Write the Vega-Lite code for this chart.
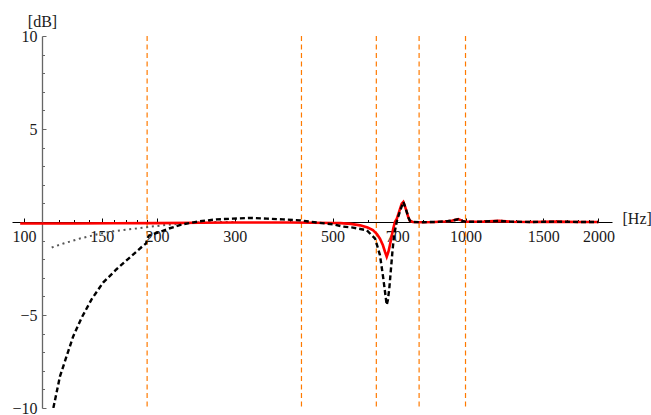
{
  "$schema": "https://vega.github.io/schema/vega-lite/v6.json",
  "width": 600,
  "height": 372,
  "autosize": "none",
  "padding": {"left": 12, "top": 36, "right": 39, "bottom": 7},
  "background": "white",
  "config": {
    "view": {"stroke": null},
    "axis": {
      "grid": false,
      "labelFont": "Liberation Serif",
      "labelFontSize": 16,
      "labelColor": "#1a1a1a",
      "titleFont": "Liberation Serif",
      "titleFontSize": 16,
      "titleFontWeight": "normal",
      "titleColor": "#1a1a1a"
    }
  },
  "datasets": {
    "red": [
      {"f": 98, "db": -0.08}, {"f": 130, "db": -0.08}, {"f": 160, "db": -0.07}, {"f": 200, "db": -0.06},
      {"f": 250, "db": -0.04}, {"f": 300, "db": -0.03}, {"f": 400, "db": -0.03}, {"f": 450, "db": -0.04},
      {"f": 500, "db": -0.05}, {"f": 520, "db": -0.06}, {"f": 550, "db": -0.1}, {"f": 577, "db": -0.18},
      {"f": 600, "db": -0.3}, {"f": 617, "db": -0.44}, {"f": 630, "db": -0.65}, {"f": 640, "db": -0.9},
      {"f": 650, "db": -1.25}, {"f": 657, "db": -1.6}, {"f": 663, "db": -1.87}, {"f": 669, "db": -1.6},
      {"f": 674, "db": -1.25}, {"f": 680, "db": -0.8}, {"f": 686, "db": -0.35}, {"f": 692, "db": 0.0},
      {"f": 699, "db": 0.18}, {"f": 705, "db": 0.45}, {"f": 711, "db": 0.72}, {"f": 717, "db": 0.98},
      {"f": 723, "db": 1.08}, {"f": 729, "db": 0.85}, {"f": 736, "db": 0.54}, {"f": 742, "db": 0.25},
      {"f": 748, "db": 0.07}, {"f": 760, "db": 0.0}, {"f": 800, "db": -0.01}, {"f": 850, "db": 0.0},
      {"f": 900, "db": 0.03}, {"f": 930, "db": 0.07}, {"f": 963, "db": 0.15}, {"f": 985, "db": 0.06},
      {"f": 1000, "db": 0.01}, {"f": 1100, "db": 0.02}, {"f": 1190, "db": 0.06}, {"f": 1260, "db": 0.02},
      {"f": 1400, "db": 0.0}, {"f": 1600, "db": 0.02}, {"f": 1800, "db": 0.0}, {"f": 2000, "db": 0.0}
    ],
    "dashed": [
      {"f": 116.5, "db": -10}, {"f": 117.1, "db": -9.75}, {"f": 120.6, "db": -8.3}, {"f": 124.9, "db": -7.2},
      {"f": 129.2, "db": -6.15}, {"f": 135, "db": -5.15}, {"f": 142.2, "db": -4.16}, {"f": 151, "db": -3.26},
      {"f": 162, "db": -2.54}, {"f": 173.5, "db": -1.91}, {"f": 186, "db": -1.28}, {"f": 189, "db": -1.15},
      {"f": 190, "db": -0.9}, {"f": 192, "db": -0.72}, {"f": 203, "db": -0.53}, {"f": 213, "db": -0.35},
      {"f": 229, "db": -0.12}, {"f": 250, "db": 0.04}, {"f": 273, "db": 0.14}, {"f": 297, "db": 0.18},
      {"f": 325, "db": 0.22}, {"f": 355, "db": 0.18}, {"f": 386, "db": 0.14}, {"f": 422, "db": 0.09},
      {"f": 460, "db": -0.03}, {"f": 501, "db": -0.12}, {"f": 528, "db": -0.25}, {"f": 556, "db": -0.3},
      {"f": 597, "db": -0.44}, {"f": 624, "db": -0.89}, {"f": 640, "db": -1.78}, {"f": 651, "db": -3.0},
      {"f": 660, "db": -4.1}, {"f": 663, "db": -4.46}, {"f": 667, "db": -4.2}, {"f": 672, "db": -3.57},
      {"f": 677, "db": -2.67}, {"f": 683, "db": -1.6}, {"f": 689, "db": -0.71}, {"f": 699, "db": 0.05},
      {"f": 711, "db": 0.6}, {"f": 723, "db": 1.08}, {"f": 729, "db": 0.85}, {"f": 736, "db": 0.54},
      {"f": 742, "db": 0.25}, {"f": 748, "db": 0.07}, {"f": 760, "db": 0.0}, {"f": 800, "db": -0.01},
      {"f": 850, "db": 0.0}, {"f": 900, "db": 0.03}, {"f": 930, "db": 0.07}, {"f": 963, "db": 0.15},
      {"f": 985, "db": 0.06}, {"f": 1000, "db": 0.01}, {"f": 1100, "db": 0.02}, {"f": 1190, "db": 0.06},
      {"f": 1260, "db": 0.02}, {"f": 1400, "db": 0.0}, {"f": 1600, "db": 0.02}, {"f": 1800, "db": 0.0},
      {"f": 2000, "db": 0.0}
    ],
    "dotted": [
      {"f": 115.5, "db": -1.37}, {"f": 122.7, "db": -1.16}, {"f": 133.8, "db": -0.89}, {"f": 146, "db": -0.67},
      {"f": 159, "db": -0.5}, {"f": 173.5, "db": -0.39}, {"f": 189.4, "db": -0.28}, {"f": 199, "db": -0.22},
      {"f": 215, "db": -0.13}, {"f": 235, "db": -0.06}, {"f": 260, "db": 0.0}, {"f": 300, "db": 0.0}
    ],
    "vlines": [
      {"f": 190}, {"f": 425}, {"f": 628}, {"f": 785}, {"f": 1000}
    ]
  },
  "resolve": {"axis": {"x": "independent", "y": "independent"}},
  "layer": [
    {
      "data": {"name": "vlines"},
      "mark": {"type": "rule", "color": "#FF7A00", "strokeWidth": 1.2, "strokeDash": [5, 3.5]},
      "encoding": {
        "x": {"field": "f", "type": "quantitative", "scale": {"type": "log", "domain": [93.9, 2147], "nice": false}, "axis": null}
      }
    },
    {
      "data": {"name": "dotted"},
      "mark": {"type": "line", "color": "#555555", "strokeWidth": 2, "strokeDash": [2, 3.7], "clip": true},
      "encoding": {
        "x": {"field": "f", "type": "quantitative", "scale": {"type": "log", "domain": [93.9, 2147], "nice": false}, "axis": null},
        "y": {"field": "db", "type": "quantitative", "scale": {"domain": [-10, 10], "nice": false, "zero": false}, "axis": null}
      }
    },
    {
      "data": {"name": "red"},
      "mark": {"type": "line", "color": "#FF0000", "strokeWidth": 2.6, "clip": true},
      "encoding": {
        "x": {"field": "f", "type": "quantitative", "scale": {"type": "log", "domain": [93.9, 2147], "nice": false},
          "axis": {"orient": "bottom", "offset": -186, "values": [100, 150, 200, 300, 500, 700, 1000, 1500, 2000], "format": "d",
            "tickSize": -4, "tickColor": "#000000", "domainColor": "#000000", "domainWidth": 1, "labelPadding": 10,
            "labelFlush": false, "labelOverlap": false,
            "title": "[Hz]", "titleX": 610, "titleY": -4, "titleAlign": "left", "titleBaseline": "middle", "titleAnchor": null}},
        "y": {"field": "db", "type": "quantitative", "scale": {"domain": [-10, 10], "nice": false, "zero": false},
          "axis": {"orient": "left", "offset": -30, "values": [-10, -5, 5, 10], "tickSize": -4, "tickColor": "#666666",
            "domainColor": "#666666", "domainWidth": 1.3, "labelPadding": 9, "labelFlush": false, "labelOverlap": false,
            "title": "[dB]", "titleAngle": 0, "titleX": 0, "titleY": -15, "titleAlign": "center", "titleBaseline": "middle", "titleAnchor": null}}
      }
    },
    {
      "data": {"name": "dashed"},
      "mark": {"type": "line", "color": "#000000", "strokeWidth": 2.4, "strokeDash": [5, 3], "clip": true},
      "encoding": {
        "x": {"field": "f", "type": "quantitative", "scale": {"type": "log", "domain": [93.9, 2147], "nice": false}, "axis": null},
        "y": {"field": "db", "type": "quantitative", "scale": {"domain": [-10, 10], "nice": false, "zero": false}, "axis": null}
      }
    },
    {
      "data": {"name": "red"},
      "mark": {"type": "point", "opacity": 0},
      "encoding": {
        "x": {"field": "f", "type": "quantitative", "scale": {"type": "log", "domain": [93.9, 2147], "nice": false},
          "axis": {"orient": "bottom", "offset": -186, "values": [110, 120, 130, 140, 160, 170, 180, 190, 400, 600, 800, 900, 1100, 1200, 1300, 1400, 1600, 1700, 1800, 1900],
            "tickSize": -2.5, "tickColor": "#000000", "labels": false, "domain": false, "title": null}},
        "y": {"field": "db", "type": "quantitative", "scale": {"domain": [-10, 10], "nice": false, "zero": false},
          "axis": {"orient": "left", "offset": -30, "values": [-9, -8, -7, -6, -4, -3, -2, -1, 1, 2, 3, 4, 6, 7, 8, 9],
            "tickSize": -2.5, "tickColor": "#666666", "labels": false, "domain": false, "title": null}}
      }
    }
  ]
}
